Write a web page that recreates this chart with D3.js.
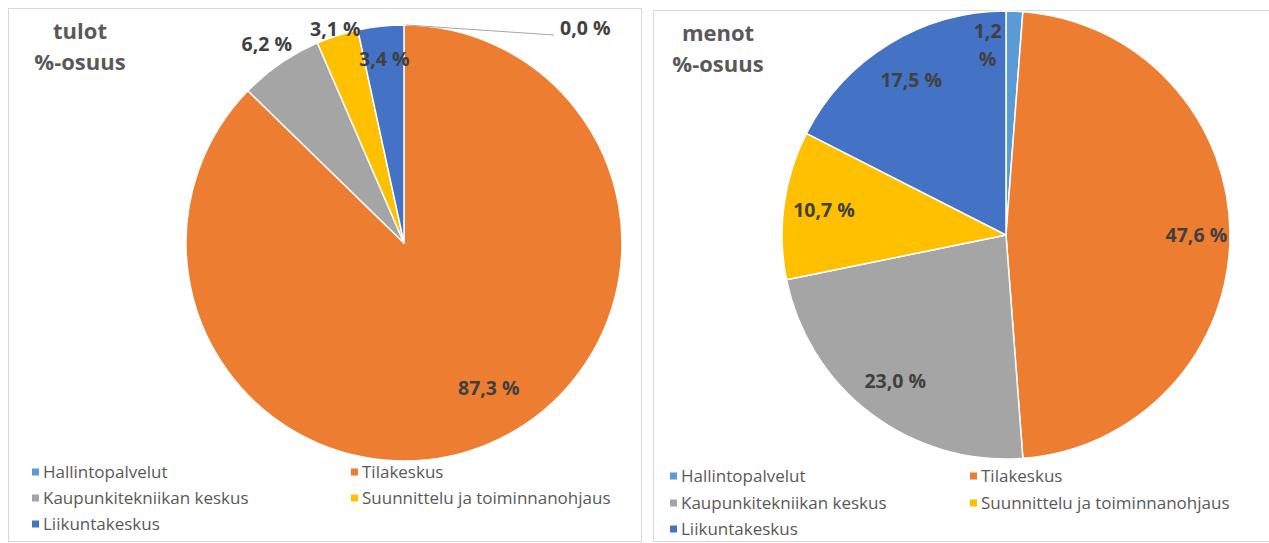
<!DOCTYPE html>
<html>
<head>
<meta charset="utf-8">
<script src="https://cdn.jsdelivr.net/npm/d3@7"></script>
<style>
  body { margin: 0; background: #fff; }
  svg { display: block; font-family: "Open Sans", sans-serif; }
</style>
</head>
<body>
<div id="chart"></div>
<script>
// categories and values (percent shares)
const categories = ["Hallintopalvelut", "Tilakeskus", "Kaupunkitekniikan keskus", "Suunnittelu ja toiminnanohjaus", "Liikuntakeskus"];
const colors = ["#5b9bd5", "#ed7d31", "#a5a5a5", "#ffc000", "#4472c4"];
const tulot = [0.0, 87.3, 6.2, 3.1, 3.4];
const menot = [1.2, 47.6, 23.0, 10.7, 17.5];
const titles = [["tulot", "%-osuus"], ["menot", "%-osuus"]];

// label placement: radius factor and small angle nudge (deg) per slice
const tulotLabelPos = [[1.0, 0], [0.77, -7.5], [1.11, 0], [1.03, 0], [0.85, 0]];
const menotLabelPos = [[0.85, -7.7], [0.85, 0], [0.82, 0], [0.82, 0], [0.81, 0]];

const W = 1269, H = 543;
const svg = d3.select("#chart").append("svg")
    .attr("width", W)
    .attr("height", H);

const fmt = v => d3.format(".1f")(v).replace(".", ",") + " %";

const panels = [
  {x: 8, y: 8, w: 633, h: 533, cx: 404, cy: 243, r: 218, values: tulot, labelPos: tulotLabelPos, title: titles[0],
   titleX: 80, legendX: [32, 351], legendY: [472, 498, 524]},
  {x: 653, y: 10, w: 620, h: 531, cx: 1006, cy: 235, r: 224, values: menot, labelPos: menotLabelPos, title: titles[1],
   titleX: 718, legendX: [670, 970], legendY: [476, 503, 529]}
];

const pie = d3.pie().sort(null).value(d => d);
const labelSize = 19.5;

panels.forEach(p => {
  // panel frame
  svg.append("rect")
      .attr("x", p.x + 0.5).attr("y", p.y + 0.5)
      .attr("width", p.w).attr("height", p.h)
      .attr("fill", "#fff")
      .attr("stroke", "#d9d9d9");

  const g = svg.append("g")
      .attr("transform", "translate(" + p.cx + "," + p.cy + ")");

  const arcs = pie(p.values);
  const arc = d3.arc().innerRadius(0).outerRadius(p.r);

  g.selectAll("path")
    .data(arcs)
    .enter()
    .append("path")
      .attr("d", arc)
      .attr("fill", (d, i) => colors[i])
      .attr("stroke", "#fff")
      .attr("stroke-width", 1.5)
      .attr("stroke-linejoin", "round");

  // data labels
  arcs.forEach((d, i) => {
    const lp = p.labelPos[i];
    const a = (d.startAngle + d.endAngle) / 2 + lp[1] * Math.PI / 180;
    const rr = p.r * lp[0];
    let lx = rr * Math.sin(a), ly = -rr * Math.cos(a);
    const txt = fmt(p.values[i]);

    if (p.values[i] === 0) {
      // zero slice: leader line out to the right
      const ex = p.r * Math.sin(a), ey = -p.r * Math.cos(a);
      g.append("line")
        .attr("x1", ex + 2).attr("y1", ey)
        .attr("x2", ex + 150).attr("y2", ey + 10)
        .attr("stroke", "#a6a6a6")
        .attr("stroke-width", 1);
      g.append("text")
        .attr("x", ex + 156).attr("y", ey + 3)
        .attr("dy", "0.35em")
        .attr("font-size", labelSize).attr("font-weight", 700)
        .attr("fill", "#404040")
        .text(txt);
      return;
    }

    const t = g.append("text")
      .attr("text-anchor", "middle")
      .attr("font-size", labelSize).attr("font-weight", 700)
      .attr("fill", "#404040");
    if (p.values === menot && i === 0) {
      // narrow slice: label wraps onto two lines
      const parts = txt.split(" ");
      t.append("tspan").attr("x", lx).attr("y", ly - 14).attr("dy", "0.35em").text(parts[0]);
      t.append("tspan").attr("x", lx).attr("y", ly + 14).attr("dy", "0.35em").text(parts[1]);
    } else {
      t.attr("x", lx).attr("y", ly).attr("dy", "0.35em").text(txt);
    }
  });

  // title
  const tt = svg.append("text")
      .attr("text-anchor", "middle")
      .attr("font-size", 22).attr("font-weight", 700)
      .attr("fill", "#595959");
  tt.append("tspan").attr("x", p.titleX).attr("y", p.y + 23).attr("dy", "0.35em").text(p.title[0]);
  tt.append("tspan").attr("x", p.titleX).attr("y", p.y + 54).attr("dy", "0.35em").text(p.title[1]);

  // legend, two columns
  const leg = svg.append("g");
  categories.forEach((c, i) => {
    const lx = p.legendX[i % 2], ly = p.legendY[Math.floor(i / 2)];
    leg.append("rect")
      .attr("x", lx).attr("y", ly - 3.5)
      .attr("width", 7).attr("height", 7)
      .attr("fill", colors[i]);
    leg.append("text")
      .attr("x", lx + 11).attr("y", ly)
      .attr("dy", "0.35em")
      .attr("font-size", 17)
      .attr("fill", "#595959")
      .text(c);
  });
});
</script>
</body>
</html>
